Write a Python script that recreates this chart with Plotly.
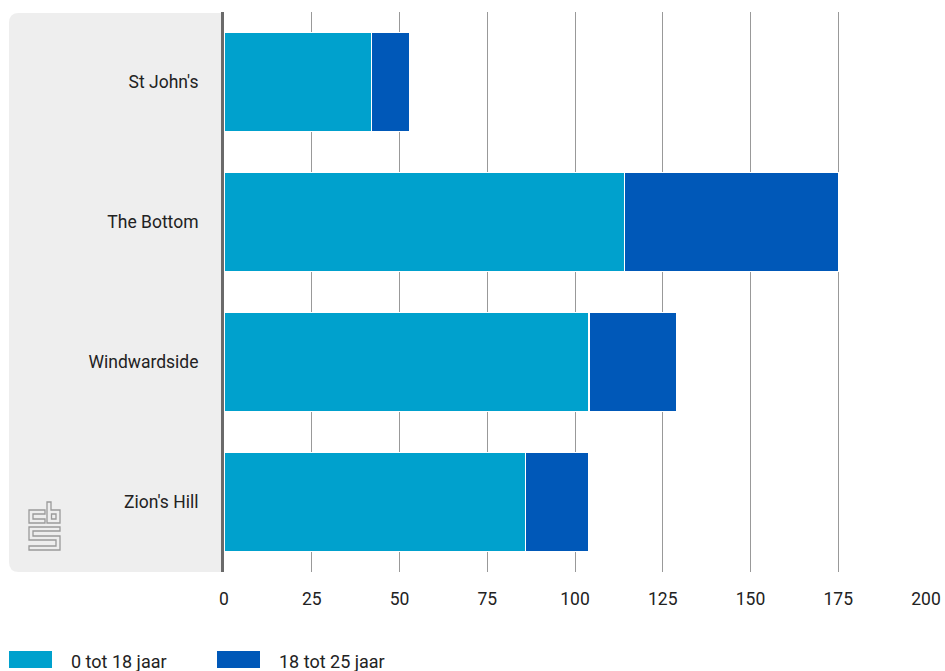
import plotly.graph_objects as go

categories = ["St John's", "The Bottom", "Windwardside", "Zion's Hill"]
series_names = ["0 tot 18 jaar", "18 tot 25 jaar"]
values_0_18 = [42, 114, 104, 86]
values_18_25 = [11, 61, 25, 18]
x_ticks = [0, 25, 50, 75, 100, 125, 150, 175, 200]
colors = ["#00a1cd", "#0058b8"]

W, H = 945, 671
ML, MR, MT, MB = 224, 19, 12, 99
PW, PH = W - ML - MR, H - MT - MB

def px(x, y):
    return (x - ML) / PW, (H - MB - y) / PH

FONT = "Roboto, sans-serif"
FS = 17.5

fig = go.Figure()
for name, vals, col in zip(series_names, [values_0_18, values_18_25], colors):
    fig.add_trace(go.Bar(
        y=categories, x=vals, name=name, orientation="h",
        marker=dict(color=col, line=dict(color="white", width=1.2)),
        showlegend=False, hoverinfo="x+y",
    ))

shapes = []
# grey rounded panel
x0, y0, x1, y1, r = 9, 13, 222, 572, 10
def P(x, y):
    a, b = px(x, y)
    return f"{a:.5f},{b:.5f}"
path = (f"M {P(x0+r, y0)} L {P(x1, y0)} L {P(x1, y1)} L {P(x0+r, y1)} "
        f"Q {P(x0, y1)} {P(x0, y1-r)} L {P(x0, y0+r)} Q {P(x0, y0)} {P(x0+r, y0)} Z")
shapes.append(dict(type="path", xref="paper", yref="paper", path=path,
                   fillcolor="#eeeeee", line=dict(width=0), layer="below"))

# cbs logo (outlined glyphs)
def poly(pts):
    return "M " + " L ".join(P(x, y) for x, y in pts) + " Z"
logo_c = poly([(45, 510), (29, 510), (29, 523), (45, 523), (45, 519), (33, 519), (33, 514), (45, 514)])
logo_b = poly([(47, 502), (51, 502), (51, 510), (60, 510), (60, 523), (47, 523)]) + " " + \
         poly([(51.5, 514), (56, 514), (56, 519), (51.5, 519)])
logo_s = poly([(60, 527), (29, 527), (29, 540), (56, 540), (56, 546), (29, 546), (29, 550),
               (60, 550), (60, 536), (33, 536), (33, 531), (60, 531)])
for pth in (logo_c, logo_b, logo_s):
    shapes.append(dict(type="path", xref="paper", yref="paper", path=pth,
                       line=dict(color="#9a9a9a", width=1.3), fillcolor="rgba(0,0,0,0)"))

# custom legend
legend_items = [(9, 52, 69), (217, 260, 277)]
annotations = []
for (sx0, sx1, tx), name, col in zip(legend_items, series_names, colors):
    a0, b0 = px(sx0, 668)
    a1, b1 = px(sx1, 651)
    shapes.append(dict(type="rect", xref="paper", yref="paper", x0=a0, x1=a1, y0=b0, y1=b1,
                       fillcolor=col, line=dict(width=0)))
    ta, tb = px(tx, 661)
    annotations.append(dict(xref="paper", yref="paper", x=ta, y=tb, text=name, showarrow=False,
                            xanchor="left", yanchor="middle",
                            font=dict(family=FONT, size=18, color="#222222")))

fig.update_layout(
    width=W, height=H,
    margin=dict(l=ML, r=MR, t=MT, b=MB, pad=0, autoexpand=False),
    barmode="stack", bargap=0.29,
    plot_bgcolor="white", paper_bgcolor="white",
    font=dict(family=FONT, size=FS, color="#222222"),
    shapes=shapes, annotations=annotations,
    xaxis=dict(range=[0, 200], tickvals=x_ticks, showgrid=True, gridcolor="#999999", gridwidth=1.3,
               zeroline=False, showline=False, ticks="", ticklabelstandoff=14, automargin=False,
               tickfont=dict(family=FONT, size=FS, color="#222222")),
    yaxis=dict(autorange="reversed", showgrid=False, zeroline=False, showline=True,
               linecolor="#6a6a6a", linewidth=3, ticks="", ticklabelstandoff=19, automargin=False,
               tickfont=dict(family=FONT, size=FS, color="#222222")),
)

fig.write_html("out.html", config={"displayModeBar": False},
               post_script="document.body.style.margin='0';document.body.style.overflow='hidden';")
